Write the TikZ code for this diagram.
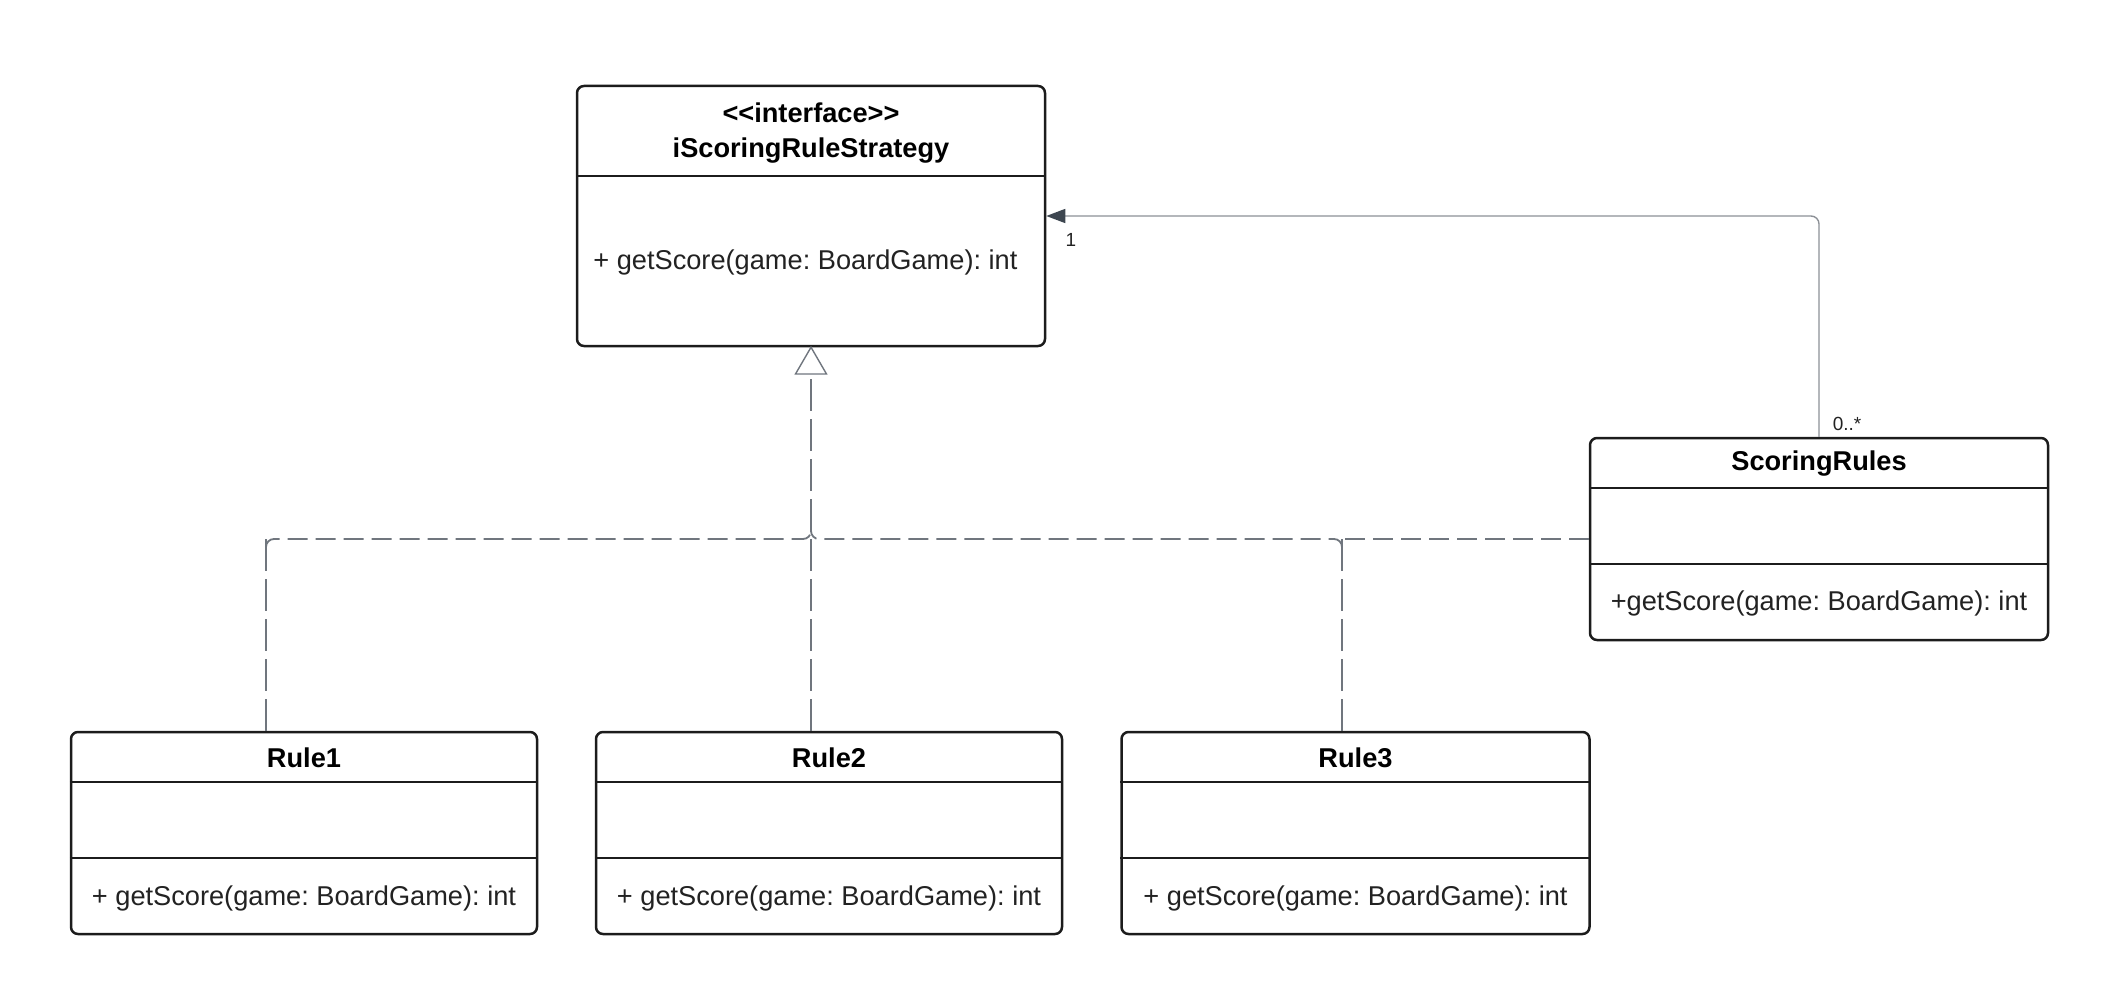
\documentclass[tikz,border=0pt]{standalone}
\usepackage{fontspec}
\setmainfont{Liberation Sans}
\frenchspacing
\usetikzlibrary{arrows.meta}
\definecolor{boxcol}{HTML}{1C1C1C}
\definecolor{txtcol}{HTML}{222222}
\definecolor{dashcol}{HTML}{70767E}
\definecolor{assoccol}{HTML}{8C9096}
\definecolor{arrowcol}{HTML}{3D4650}
\tikzset{
  classbox/.style={draw=boxcol, line width=1.25pt, rounded corners=3.5pt, fill=white, inner sep=0pt},
  ttl/.style={font=\bfseries\fontsize{13.6}{16}\selectfont, text=black, inner sep=0pt},
  mth/.style={font=\fontsize{13.6}{16}\selectfont, text=txtcol, inner sep=0pt},
  mult/.style={font=\fontsize{9.5}{11}\selectfont, text=txtcol, inner sep=0pt},
  divider/.style={draw=boxcol, line width=1.1pt},
  realize/.style={draw=dashcol, line width=0.6pt, dash pattern=on 16pt off 4pt, rounded corners=4pt},
  realizeh/.style={draw=dashcol, line width=0.9pt, dash pattern=on 10pt off 4pt, rounded corners=4pt},
  assoc/.style={draw=assoccol, line width=0.7pt, rounded corners=4pt},
  gentri/.style={draw=dashcol, line width=0.7pt, fill=white}
}
\begin{document}
\begin{tikzpicture}[x=0.5pt, y=-0.5pt]
\useasboundingbox (0,0) rectangle (2104,1006);

% interface
\node[classbox, minimum width=234pt, minimum height=130pt] (iface) at (811,216) {};
\draw[divider] (577,176) -- (1045,176);
\node[ttl] (ifst) at (811,113) {{<}{<}interface{>}{>}};
\node[ttl] (ifnm) at (811,151) {iScoringRuleStrategy};
\node[mth, anchor=west] (ifm) at (593,262) {+ getScore(game: BoardGame): int};

% ScoringRules
\node[classbox, minimum width=229pt, minimum height=101pt] (score) at (1819,539) {};
\draw[divider] (1590,488) -- (2048,488);
\draw[divider] (1590,564) -- (2048,564);
\node[ttl] (scnm) at (1819,464) {ScoringRules};
\node[mth] (scm) at (1819,603) {+getScore(game: BoardGame): int};

% Rules
\node[classbox, minimum width=233pt, minimum height=101pt] (rule1) at (304,833) {};
\node[classbox, minimum width=233pt, minimum height=101pt] (rule2) at (829,833) {};
\node[classbox, minimum width=234pt, minimum height=101pt] (rule3) at (1355.5,833) {};
\foreach \r in {rule1,rule2,rule3}{
  \draw[divider] (\r.west |- 0,782) -- (\r.east |- 0,782);
  \draw[divider] (\r.west |- 0,858) -- (\r.east |- 0,858);
}
\node[ttl] (r1nm) at (304,758) {Rule1};
\node[ttl] (r2nm) at (829,758) {Rule2};
\node[ttl] (r3nm) at (1355.5,758) {Rule3};
\node[mth] (r1m) at (304,898) {+ getScore(game: BoardGame): int};
\node[mth] (r2m) at (829,898) {+ getScore(game: BoardGame): int};
\node[mth] (r3m) at (1355.5,898) {+ getScore(game: BoardGame): int};

% realization connectors
\coordinate (tbase) at (811,374);
\coordinate (junc) at (811,539);
\draw[realize] (rule2.north -| tbase) -- (tbase);
\draw[realize] (rule1.north -| 266,0) -- (266,539);
\draw[realizeh] (266,549) -- (266,539) -- (junc) -- ([yshift=4pt]junc);
\draw[realize] (rule3.north -| 1342,0) -- (1342,539);
\draw[realizeh] (1342,549) -- (1342,539) -- (junc) -- ([yshift=4pt]junc);
\draw[realizeh] (score.west) -- (1342,539);
\draw[gentri] (iface.south) -- ([xshift=-7.75pt]tbase) -- ([xshift=7.75pt]tbase) -- cycle;

% association
\coordinate (bend) at (1819,216);
\draw[assoc, -{Triangle[length=9.5pt, width=7pt, color=arrowcol, fill=arrowcol]}] (score.north) -- (bend) -- (iface.east |- bend);
\node[mult] (m1) at (1071,240) {1};
\node[mult] (m2) at (1847,424) {0..*};
\end{tikzpicture}
\end{document}
